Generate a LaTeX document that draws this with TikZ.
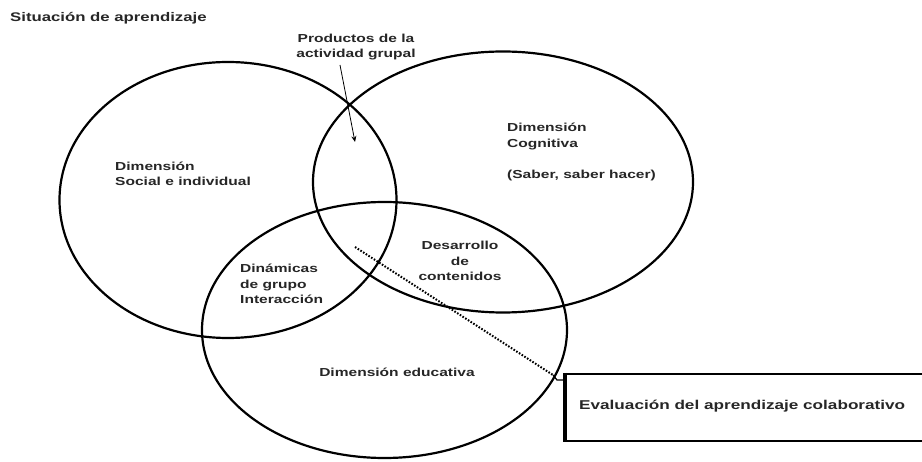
\documentclass[tikz,border=0pt]{standalone}
\usepackage{fontspec}
\setmainfont{Liberation Sans}
\usepackage{graphicx}
\usetikzlibrary{shapes.geometric,arrows.meta}
\newcommand{\wtxt}[3][l]{{\fontsize{#2}{15.5}\selectfont\bfseries\scalebox{1.34}[1]{\begin{tabular}{@{}#1@{}}#3\end{tabular}}}}
\tikzset{
  venn/.style={draw=black, line width=2.2pt, ellipse, inner sep=0pt},
  lbl/.style={inner sep=0pt, text=black!85},
  conn/.style={line width=0.8pt},
  dotline/.style={line width=2pt, dash pattern=on 1.6pt off 1.6pt},
  evalbox/.style={draw=black, line width=2.2pt, rectangle, inner sep=0pt, anchor=north west}
}
\begin{document}
\begin{tikzpicture}[x=1pt,y=-1pt]
\useasboundingbox (0,0) rectangle (922,462);
\clip (0,0) rectangle (922,462);
\fill[white] (0,0) rectangle (922,462);
% ellipses
\node[venn, minimum width=337pt, minimum height=276pt] (social) at (228,200) {};
\node[venn, minimum width=380pt, minimum height=261pt] (cogn) at (503,182) {};
\node[venn, minimum width=365pt, minimum height=256pt] (educ) at (384.5,330) {};
% box
\node[evalbox, minimum width=380pt, minimum height=67pt] (box) at (565,373) {};
\draw[line width=3.4pt] (box.north west) -- (box.south west);
% labels
\node[lbl, anchor=west] (title) at (10,18) {\wtxt{12.5}{Situación de aprendizaje}};
\node[lbl] (prod) at (356,47) {\wtxt[c]{11.6}{Productos de la\\actividad grupal}};
\node[lbl, anchor=west] (cogtxt) at (507,152) {\wtxt{11.6}{Dimensión\\Cognitiva\\\\(Saber, saber hacer)}};
\node[lbl, anchor=west] (soctxt) at (115,175) {\wtxt{11.6}{Dimensión\\Social e individual}};
\node[lbl, anchor=west] (dintxt) at (240,285) {\wtxt{11.6}{Dinámicas\\de grupo\\Interacción}};
\node[lbl] (destxt) at (460,262) {\wtxt[c]{11.6}{Desarrollo\\de\\contenidos}};
\node[lbl] (edutxt) at (397,373) {\wtxt{11.6}{Dimensión educativa}};
\node[lbl, anchor=west] (evaltxt) at (579,406) {\wtxt{12.8}{Evaluación del aprendizaje colaborativo}};
% arrow
\coordinate (a1) at (340,65);
\coordinate (a2) at (355,142);
\draw[conn, -{Stealth[length=6pt,width=5pt]}] (a1) -- (a2);
% dotted connector
\coordinate (d1) at (355,247);
\coordinate (d2) at (553,375);
\coordinate (d3) at (557,380);
\draw[dotline] (d1) -- (d2);
\draw[line width=1.2pt] (d2) -- (d3) -- (box.west |- d3);
\end{tikzpicture}
\end{document}
